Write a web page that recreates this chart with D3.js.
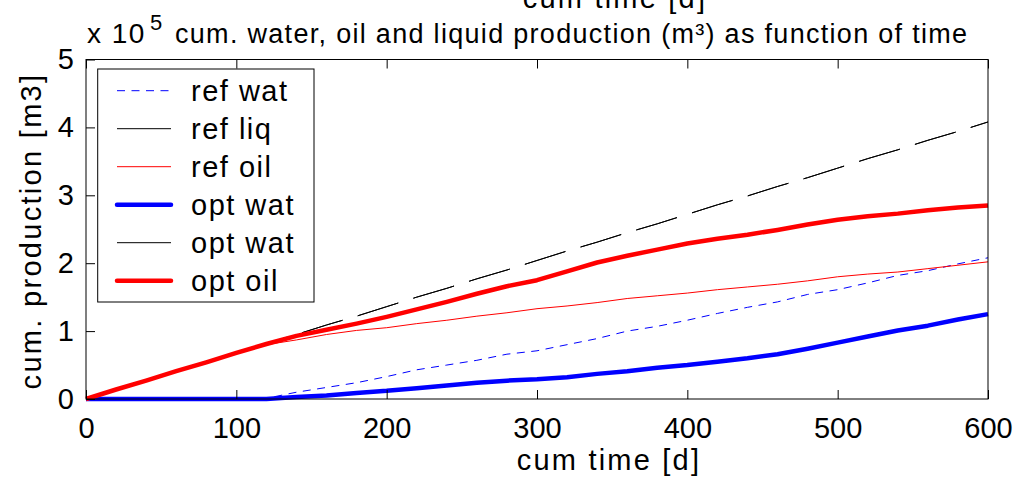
<!DOCTYPE html>
<html>
<head>
<meta charset="utf-8">
<script src="https://cdn.jsdelivr.net/npm/d3@7/dist/d3.min.js"></script>
<style>
    body { margin: 0; background: #fff; }
    text { font-family: "Liberation Sans", Arial, sans-serif; fill: #000; }
</style>
</head>
<body>
<div id="chart"></div>
<script>

// Data (values in 1e5 m3, time in days)
const days   = [0,20,40,60,80,100,120,140,160,180,200,220,240,260,280,300,320,340,360,380,400,420,440,460,480,500,520,540,560,580,600];
const refWat = [0,0,0,0,0,0,0.01,0.10,0.17,0.24,0.33,0.43,0.50,0.57,0.66,0.71,0.80,0.89,1.00,1.07,1.16,1.26,1.35,1.43,1.54,1.61,1.71,1.82,1.89,1.99,2.08];
const refLiq = [0,0.14,0.27,0.41,0.54,0.68,0.82,0.95,1.09,1.22,1.36,1.50,1.63,1.77,1.90,2.04,2.18,2.31,2.45,2.58,2.72,2.86,2.99,3.13,3.26,3.40,3.54,3.67,3.81,3.94,4.08];
const refOil = [0,0.14,0.27,0.41,0.54,0.68,0.80,0.87,0.95,1.01,1.05,1.11,1.16,1.22,1.27,1.33,1.37,1.42,1.48,1.52,1.56,1.61,1.65,1.69,1.74,1.80,1.84,1.87,1.92,1.97,2.02];
const optWat = [0,0,0,0,0,0,0,0.03,0.05,0.09,0.12,0.16,0.20,0.24,0.27,0.29,0.32,0.37,0.41,0.46,0.50,0.55,0.60,0.66,0.74,0.83,0.92,1.01,1.08,1.17,1.25];
const optLiq = [0,0.14,0.27,0.41,0.54,0.68,0.82,0.95,1.09,1.22,1.36,1.50,1.63,1.77,1.90,2.04,2.18,2.31,2.45,2.58,2.72,2.86,2.99,3.13,3.26,3.40,3.54,3.67,3.81,3.94,4.08];
const optOil = [0,0.14,0.27,0.41,0.54,0.68,0.81,0.93,1.02,1.11,1.21,1.32,1.43,1.55,1.66,1.75,1.88,2.01,2.11,2.20,2.29,2.36,2.42,2.49,2.57,2.64,2.69,2.73,2.78,2.82,2.85];
const legendNames = ['ref wat','ref liq','ref oil','opt wat','opt wat','opt oil'];
const xTicks = [0,100,200,300,400,500,600];
const yTicks = [0,1,2,3,4,5];

// Series styling, in drawing order
const series = [
    {values: refWat, color: '#0000ff', width: 1, dash: '8,6.5'},
    {values: refLiq, color: '#000', width: 1, dash: null, gaps: true},
    {values: refOil, color: '#ff0000', width: 1, dash: null},
    {values: optWat, color: '#0000ff', width: 4.5, dash: null},
    {values: optLiq, color: '#000', width: 1, dash: null, gaps: true},
    {values: optOil, color: '#ff0000', width: 4.5, dash: null}
];

const width = 1022, height = 483;
const margin = [59.5, 84, 86, 34]; // top, bottom, left, right

const svg = d3.select('#chart').append('svg')
    .attr('width', width).attr('height', height);

const x = d3.scaleLinear().domain([0, 600]).range([margin[2], width - margin[3]]);
const y = d3.scaleLinear().domain([0, 5]).range([height - margin[1], margin[0]]);

// Lines
const line = d3.line().x((d, i) => x(days[i])).y(d => y(d));
const plot = svg.append('g');
series.forEach(s => {
    plot.append('path')
        .attr('d', line(s.values))
        .attr('fill', 'none')
        .attr('stroke', s.color)
        .attr('stroke-width', s.width)
        .attr('stroke-linejoin', 'round')
        .attr('stroke-dasharray', s.gaps ? '42.5,15.8' : s.dash)
        .attr('stroke-dashoffset', s.gaps ? 7.3 : null);
});

// Axes with inward ticks
const fontTick = 29;
svg.append('g')
    .attr('transform', `translate(0,${y(0)})`)
    .call(d3.axisBottom(x).tickValues(xTicks).tickSize(-9).tickPadding(18))
    .call(g => g.select('.domain').remove())
    .call(g => g.selectAll('text').attr('font-size', fontTick).attr('font-family', 'Liberation Sans'));
svg.append('g')
    .attr('transform', `translate(0,${y(5)})`)
    .call(d3.axisTop(x).tickValues(xTicks).tickSize(-9).tickFormat(''))
    .call(g => g.select('.domain').remove());
svg.append('g')
    .attr('transform', `translate(${x(0)},0)`)
    .call(d3.axisLeft(y).tickValues(yTicks).tickFormat(d3.format('d')).tickSize(-9).tickPadding(12))
    .call(g => g.select('.domain').remove())
    .call(g => g.selectAll('text').attr('font-size', fontTick).attr('font-family', 'Liberation Sans'));

// Axes box
svg.append('rect')
    .attr('x', x(0)).attr('y', y(5))
    .attr('width', x(600) - x(0)).attr('height', y(0) - y(5))
    .attr('fill', 'none').attr('stroke', '#000').attr('stroke-width', 1);

// Labels (the top one is cut off by the edge, as in the original)
svg.append('text')
    .attr('x', 609).attr('y', 470)
    .attr('text-anchor', 'middle')
    .attr('font-size', 29).attr('letter-spacing', 2.2)
    .text('cum time [d]');
svg.append('text')
    .attr('x', 615).attr('y', 8)
    .attr('text-anchor', 'middle')
    .attr('font-size', 29).attr('letter-spacing', 2.2)
    .text('cum time [d]');
svg.append('text')
    .attr('transform', 'translate(41,231) rotate(-90)')
    .attr('text-anchor', 'middle')
    .attr('font-size', 29).attr('letter-spacing', 2.3)
    .text('cum. production [m3]');

// Title with exponent
const title = svg.append('g');
title.append('text')
    .attr('x', 87).attr('y', 43)
    .attr('font-size', 28).attr('letter-spacing', 1.5)
    .text('x 10');
title.append('text')
    .attr('x', 150).attr('y', 30)
    .attr('font-size', 22)
    .text('5');
title.append('text')
    .attr('x', 175).attr('y', 43)
    .attr('font-size', 27).attr('letter-spacing', 1.3)
    .text('cum. water, oil and liquid production (m³) as function of time');

// Legend
const legend = svg.append('g');
legend.append('rect')
    .attr('x', 97.7).attr('y', 69)
    .attr('width', 216.3).attr('height', 233)
    .attr('fill', '#fff').attr('stroke', '#000').attr('stroke-width', 1);
const rows = legend.selectAll('g.row')
    .data(series)
    .join('g')
    .classed('row', true)
    .attr('transform', (d, i) => `translate(0,${90.7 + i * 38})`);
rows.append('line')
    .attr('x1', 117).attr('x2', 171)
    .attr('stroke', d => d.color)
    .attr('stroke-width', d => d.width)
    .attr('stroke-linecap', d => d.width > 2 ? 'round' : 'butt')
    .attr('stroke-dasharray', d => d.dash);
rows.append('text')
    .attr('x', 191).attr('y', 10)
    .attr('font-size', 29).attr('letter-spacing', 1.5)
    .text((d, i) => legendNames[i]);

</script>
</body>
</html>
